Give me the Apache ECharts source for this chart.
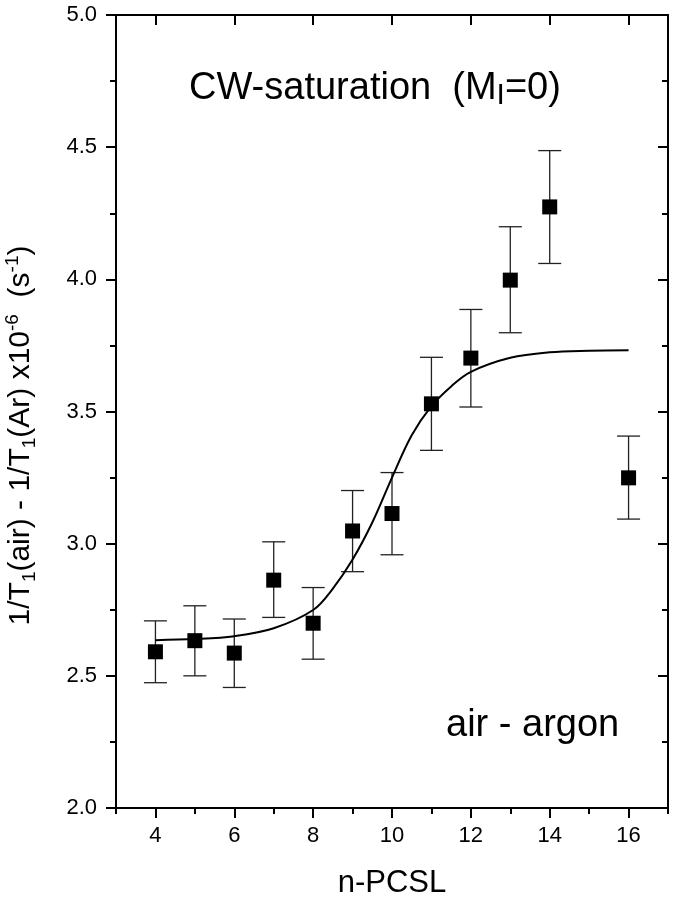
<!DOCTYPE html>
<html>
<head>
<meta charset="utf-8">
<script src="https://cdn.jsdelivr.net/npm/echarts@6/dist/echarts.min.js"></script>
<style>
   html, body {
      margin: 0;
      padding: 0;
      background: #ffffff;
   }
   .chart-main {
      width: 674px;
      height: 899px;
   }
</style>
</head>
<body>
<div class="chart-main"></div>
<script>
// measured points (n-PCSL vs relaxation difference)
const pointX = [4, 5, 6, 7, 8, 9, 10, 11, 12, 13, 14, 16];
const pointY = [2.591, 2.633, 2.586, 2.862, 2.699, 3.048, 3.114, 3.529, 3.702, 3.997, 4.274, 3.249];
const errLow = [2.474, 2.500, 2.456, 2.721, 2.563, 2.894, 2.958, 3.353, 3.517, 3.798, 4.060, 3.093];
const errHigh = [2.708, 2.765, 2.715, 3.007, 2.834, 3.201, 3.269, 3.705, 3.886, 4.199, 4.487, 3.407];
// fitted curve
const fitX = [4, 5, 6, 7, 8, 8.5, 9, 9.5, 10, 10.5, 11, 11.5, 12, 13, 14, 15, 16];
const fitY = [2.635, 2.639, 2.650, 2.680, 2.749, 2.83, 2.94, 3.08, 3.25, 3.41, 3.52, 3.595, 3.650, 3.703, 3.724, 3.730, 3.732];
const majorX = [4, 6, 8, 10, 12, 14, 16];
const minorX = [3, 5, 7, 9, 11, 13, 15, 17];

const FONT = "'Liberation Sans', Arial, sans-serif";
const chart = echarts.init(document.querySelector('.chart-main'));

const errorBars = (params, api) => {
   let x = api.value(0);
   let lo = api.coord([x, api.value(1)]);
   let hi = api.coord([x, api.value(2)]);
   let w = 11.5;
   let style = { stroke: '#222', lineWidth: 1.3 };
   return {
      type: 'group',
      children: [
         { type: 'line', shape: { x1: lo[0], y1: lo[1], x2: hi[0], y2: hi[1] }, style },
         { type: 'line', shape: { x1: lo[0] - w, y1: lo[1], x2: lo[0] + w, y2: lo[1] }, style },
         { type: 'line', shape: { x1: hi[0] - w, y1: hi[1], x2: hi[0] + w, y2: hi[1] }, style },
      ]
   };
}

let axisLine = { show: true, lineStyle: { color: '#000', width: 2 } };

let option = {
   animation: false,
   backgroundColor: '#fff',
   textStyle: { fontFamily: FONT },
   title: [
      {
         text: '{n|CW-saturation  (M}{s|I}{n|=0)}',
         left: 189,
         top: 67,
         padding: 0,
         textStyle: {
            fontWeight: 'normal',
            rich: {
               n: { fontSize: 38, lineHeight: 44, color: '#000', fontWeight: 'normal', fontFamily: FONT },
               s: { fontSize: 30, lineHeight: 18, verticalAlign: 'bottom', color: '#000', fontWeight: 'normal', fontFamily: FONT },
            }
         }
      },
      {
         text: 'air - argon',
         left: 446,
         top: 704,
         padding: 0,
         textStyle: { fontSize: 38, lineHeight: 44, color: '#000', fontWeight: 'normal', fontFamily: FONT }
      }
   ],
   grid: {
      left: 116,
      right: 6,
      top: 15,
      bottom: 91,
      outerBoundsMode: 'none',
   },
   xAxis: [
      {
         type: 'value',
         position: 'bottom',
         min: 3,
         max: 17,
         interval: 1,
         axisLine,
         splitLine: { show: false },
         axisTick: { length: 10, lineStyle: { color: '#000', width: 2 }, customValues: majorX },
         axisLabel: { customValues: majorX, fontSize: 22, color: '#000', margin: 17, fontFamily: FONT },
         name: 'n-PCSL',
         nameLocation: 'middle',
         nameGap: 60,
         nameTextStyle: { fontSize: 31, color: '#000', fontFamily: FONT },
      },
      {
         type: 'value',
         position: 'bottom',
         min: 3,
         max: 17,
         interval: 1,
         axisLine: { show: false },
         splitLine: { show: false },
         axisTick: { length: 6, lineStyle: { color: '#000', width: 2 }, customValues: minorX },
         axisLabel: { show: false },
      },
      {
         type: 'value',
         position: 'top',
         min: 3,
         max: 17,
         interval: 1,
         axisLine,
         splitLine: { show: false },
         axisTick: { inside: true, length: 10, lineStyle: { color: '#000', width: 2 }, customValues: majorX },
         axisLabel: { show: false },
      }
   ],
   yAxis: [
      {
         type: 'value',
         position: 'left',
         min: 2,
         max: 5,
         interval: 0.5,
         axisLine,
         splitLine: { show: false },
         axisTick: { length: 10, lineStyle: { color: '#000', width: 2 } },
         minorTick: { show: true, splitNumber: 2, length: 6, lineStyle: { color: '#000', width: 2 } },
         axisLabel: {
            fontSize: 22,
            color: '#000',
            margin: 19,
            fontFamily: FONT,
            formatter: (v) => v.toFixed(1),
         },
         name: '{n|1/T}{s|1}{n|(air) - 1/T}{s|1}{n|(Ar) x10}{p|-6}{n|  (s}{p|-1}{n|)}',
         nameLocation: 'middle',
         nameRotate: 90,
         nameGap: 77,
         nameTextStyle: {
            padding: [0, 48, 0, 0],
            rich: {
               n: { fontSize: 30, lineHeight: 36, color: '#000', fontFamily: FONT },
               s: { fontSize: 19, lineHeight: 14, verticalAlign: 'bottom', color: '#000', fontFamily: FONT },
               p: { fontSize: 19, lineHeight: 16, verticalAlign: 'top', color: '#000', fontFamily: FONT },
            }
         },
      },
      {
         type: 'value',
         position: 'right',
         min: 2,
         max: 5,
         interval: 0.5,
         axisLine,
         splitLine: { show: false },
         axisTick: { inside: true, length: 10, lineStyle: { color: '#000', width: 2 } },
         minorTick: { show: true, splitNumber: 2, length: 6, lineStyle: { color: '#000', width: 2 } },
         axisLabel: { show: false },
      }
   ],
   series: [
      {
         type: 'custom',
         xAxisIndex: 0,
         yAxisIndex: 0,
         renderItem: errorBars,
         encode: { x: 0, y: [1, 2] },
         data: pointX.map((x, i) => [x, errLow[i], errHigh[i]]),
         z: 2,
      },
      {
         type: 'line',
         xAxisIndex: 0,
         yAxisIndex: 0,
         smooth: 0.35,
         showSymbol: false,
         lineStyle: { color: '#000', width: 2 },
         data: fitX.map((x, i) => [x, fitY[i]]),
         z: 3,
      },
      {
         type: 'scatter',
         xAxisIndex: 0,
         yAxisIndex: 0,
         symbol: 'rect',
         symbolSize: 15,
         itemStyle: { color: '#000', opacity: 1 },
         data: pointX.map((x, i) => [x, pointY[i]]),
         z: 4,
      }
   ]
};
chart.setOption(option);
</script>
</body>
</html>
